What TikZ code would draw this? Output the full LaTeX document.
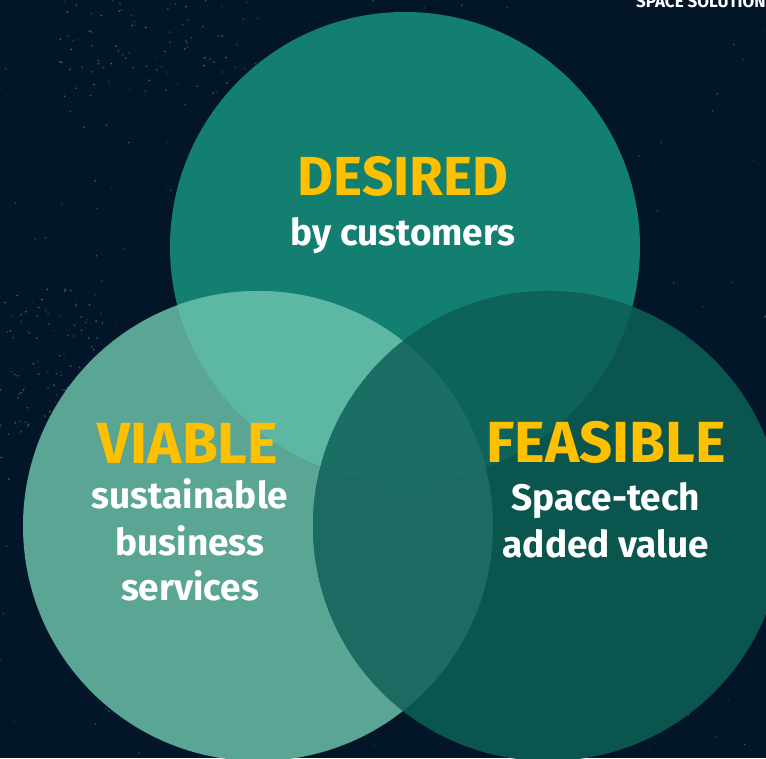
\documentclass[tikz,border=0pt]{standalone}
\usepackage{fontspec}
\setmainfont{Fira Sans}
\begin{document}
\begin{tikzpicture}[x=1pt,y=1pt,
  title/.style={font=\fontsize{55}{60}\selectfont\bfseries, text=gold, anchor=base, inner sep=0pt},
  bigtitle/.style={title, font=\fontsize{58}{60}\selectfont\bfseries},
  sub/.style={font=\fontsize{37}{46}\selectfont\bfseries, text=white, anchor=base, inner sep=0pt}]
\definecolor{bg}{HTML}{031629}
\definecolor{gold}{HTML}{FFC000}
\definecolor{ctop}{HTML}{137F71}
\definecolor{cleft}{HTML}{5AA593}
\definecolor{cright}{HTML}{0A564E}
\definecolor{ctl}{HTML}{5CB8A3}
\definecolor{ctr}{HTML}{0D6259}
\definecolor{clr}{HTML}{1C6B62}
\definecolor{call}{HTML}{1B6E64}
\definecolor{star}{HTML}{2FA595}
\useasboundingbox (0,0) rectangle (766,758);
\clip (0,0) rectangle (766,758);
\fill[bg] (0,0) rectangle (766,758);
% stars
\pgfmathsetseed{7}
\foreach \i in {1,...,300}{
  \pgfmathsetmacro{\sx}{rnd*766}
  \pgfmathsetmacro{\sy}{rnd*758}
  \pgfmathsetmacro{\so}{0.15+0.5*rnd}
  \fill[star, opacity=\so] (\sx,\sy) circle (0.9);
}
\foreach \i in {1,...,120}{
  \pgfmathsetmacro{\sx}{rnd*110}
  \pgfmathsetmacro{\sy}{250+rnd*220}
  \pgfmathsetmacro{\so}{0.2+0.5*rnd}
  \fill[star, opacity=\so] (\sx,\sy) circle (1);
}
\foreach \i in {1,...,80}{
  \pgfmathsetmacro{\sx}{60+rnd*200}
  \pgfmathsetmacro{\sy}{660+rnd*98}
  \pgfmathsetmacro{\so}{0.2+0.5*rnd}
  \fill[star, opacity=\so] (\sx,\sy) circle (1);
}
\node[font=\fontsize{17}{17}\selectfont\bfseries, text=white, anchor=base west, inner sep=0pt] (brand) at (636,750) {SPACE SOLUTIONS};
% circles
\coordinate (T) at (405,511);
\coordinate (L) at (258,232);
\coordinate (R) at (548,232);
\def\rad{235}
\fill[ctop] (T) circle (\rad);
\fill[cleft] (L) circle (\rad);
\fill[cright] (R) circle (\rad);
\begin{scope}
  \clip (T) circle (\rad);
  \fill[ctl] (L) circle (\rad);
  \fill[ctr] (R) circle (\rad);
\end{scope}
\begin{scope}
  \clip (L) circle (\rad);
  \fill[clr] (R) circle (\rad);
  \clip (R) circle (\rad);
  \fill[call] (T) circle (\rad);
\end{scope}
% texts
\node[title] (desired) at (403,562) {DESIRED};
\node[sub] (customers) at (403,512) {by customers};
\node[bigtitle] (viable) at (188,294) {VIABLE};
\node[sub] (sustainable) at (190,249) {sustainable};
\node[sub] (business) at (190,202) {business};
\node[sub] (services) at (190,157) {services};
\node[bigtitle] (feasible) at (606,295) {FEASIBLE};
\node[sub] (spacetech) at (606,247) {Space-tech};
\node[sub] (addedvalue) at (606,200) {added value};
\end{tikzpicture}
\end{document}
